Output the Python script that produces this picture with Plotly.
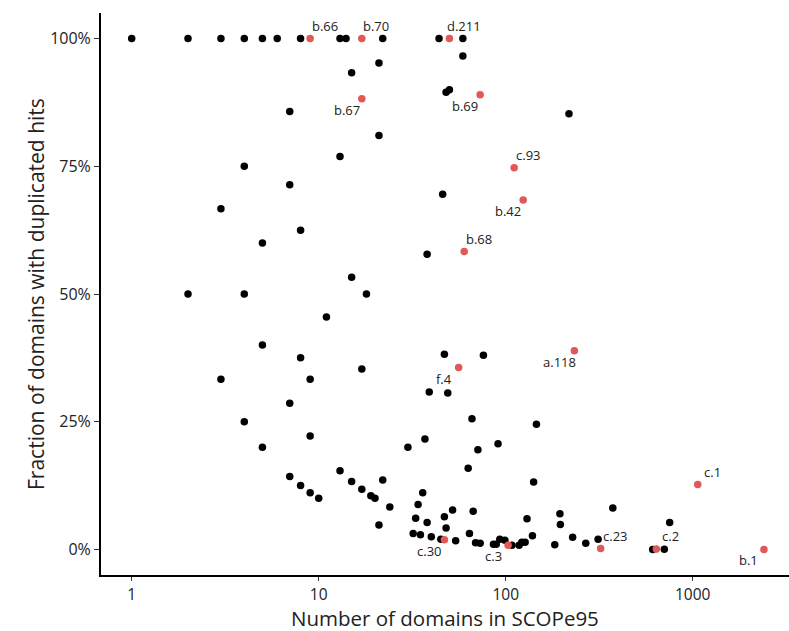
import math
import plotly.graph_objects as go

# Black points: number of domains in SCOPe95, fraction with duplicated hits
black_n = [1, 2, 3, 4, 5, 6, 8, 13, 14, 22, 44, 59,
           15, 7, 13, 4, 7, 21, 59, 48, 50, 218, 21, 46,
           3, 8, 5, 15, 2, 4, 11, 18, 5, 8, 17, 3, 9,
           38, 47, 76,
           7, 4, 9, 5, 7, 8, 9, 10, 13, 15, 17, 19, 20, 22, 24, 21,
           39, 49, 66, 146, 30, 37, 71, 91, 63, 141, 36, 34, 33, 38, 32, 35, 40, 45,
           47, 52, 48, 54, 64, 67, 69, 73, 86, 89, 93, 99, 108, 118, 122, 127, 130,
           139, 183, 195, 196, 228, 268, 312, 374, 611, 705, 753]
black_frac = [1.0, 1.0, 1.0, 1.0, 1.0, 1.0, 1.0, 1.0, 1.0, 1.0, 1.0, 1.0,
              0.933, 0.857, 0.769, 0.75, 0.714, 0.952, 0.966, 0.895, 0.90, 0.853, 0.81, 0.695,
              0.667, 0.625, 0.60, 0.533, 0.50, 0.50, 0.455, 0.50, 0.40, 0.375, 0.353, 0.333, 0.333,
              0.578, 0.382, 0.380,
              0.286, 0.25, 0.222, 0.20, 0.143, 0.125, 0.111, 0.10, 0.154, 0.133, 0.118, 0.105, 0.10, 0.136, 0.083, 0.048,
              0.308, 0.306, 0.256, 0.245, 0.20, 0.216, 0.195, 0.207, 0.159, 0.132, 0.111, 0.088, 0.061, 0.053, 0.031, 0.029, 0.025, 0.02,
              0.064, 0.077, 0.042, 0.017, 0.031, 0.075, 0.013, 0.012, 0.010, 0.010, 0.02, 0.018, 0.008, 0.008, 0.014, 0.014, 0.06,
              0.027, 0.009, 0.07, 0.049, 0.024, 0.012, 0.02, 0.081, 0.0, 0.0006, 0.053]

# Highlighted (red) classes
red_labels = ["b.66", "b.70", "d.211", "b.67", "b.69", "c.93", "b.42", "b.68",
              "f.4", "a.118", "c.30", "c.3", "c.23", "c.2", "c.1", "b.1"]
red_n = [9, 17, 50, 17, 73, 111, 124, 60, 56, 233, 47, 103, 322, 639, 1064, 2405]
red_frac = [1.0, 1.0, 1.0, 0.882, 0.89, 0.747, 0.684, 0.583, 0.356, 0.389,
            0.019, 0.008, 0.002, 0.001, 0.127, 0.0]

# Label placement style: "ur" = up-right, "dl" = down-left
label_dir = {"b.66": "ur", "b.70": "ur", "d.211": "ur", "b.67": "dl", "b.69": "dl",
             "c.93": "ur", "b.42": "dl", "b.68": "ur", "f.4": "dl", "a.118": "dl",
             "c.30": "dl", "c.3": "dl", "c.23": "ur", "c.2": "ur", "c.1": "ur", "b.1": "dl"}

x_tickvals = [1, 10, 100, 1000]
x_ticktext = ["1", "10", "100", "1000"]
y_tickvals = [0, 0.25, 0.5, 0.75, 1.0]
y_ticktext = ["0%", "25%", "50%", "75%", "100%"]

x_title = "Number of domains in SCOPe95"
y_title = "Fraction of domains with duplicated hits"

FONT = "Open Sans"
RED = "#e05858"

fig = go.Figure()
fig.add_trace(go.Scatter(x=black_n, y=black_frac, mode="markers",
                         marker=dict(color="black", size=7.5, line=dict(width=0)),
                         showlegend=False))
fig.add_trace(go.Scatter(x=red_n, y=red_frac, mode="markers",
                         marker=dict(color=RED, size=7.5, line=dict(width=0)),
                         showlegend=False))

for lab, n, f in zip(red_labels, red_n, red_frac):
    if label_dir[lab] == "ur":
        xs, ys = 14.5, 12.5
    else:
        xs, ys = -15, -11
    fig.add_annotation(x=math.log10(n), y=f, xref="x", yref="y", text=lab, showarrow=False,
                       xshift=xs, yshift=ys, xanchor="center", yanchor="middle",
                       font=dict(family=FONT, size=13, color="#222"))

# Axis titles as annotations for precise placement
fig.add_annotation(x=0.5, y=0, xref="paper", yref="paper", text=x_title, showarrow=False,
                   yshift=-43, xanchor="center", yanchor="middle",
                   font=dict(family=FONT, size=20.5, color="#222"))
fig.add_annotation(x=0, y=0.5, xref="paper", yref="paper", text=y_title, showarrow=False,
                   xshift=-65, textangle=-90, xanchor="center", yanchor="middle",
                   font=dict(family=FONT, size=21, color="#222"))

fig.update_layout(
    width=789, height=631,
    margin=dict(l=101, r=0, t=13, b=56),
    paper_bgcolor="white", plot_bgcolor="white",
    font=dict(family=FONT, color="#222"),
)
fig.update_xaxes(type="log", range=[-0.1642, 3.515],
                 tickvals=x_tickvals, ticktext=x_ticktext,
                 showgrid=False, zeroline=False,
                 showline=True, linecolor="black", linewidth=2,
                 ticks="outside", ticklen=4, tickwidth=1, tickcolor="#333",
                 tickfont=dict(family=FONT, size=15.5, color="#222"))
fig.update_yaxes(range=[-0.05, 1.05],
                 tickvals=y_tickvals, ticktext=y_ticktext,
                 showgrid=False, zeroline=False,
                 showline=True, linecolor="black", linewidth=2,
                 ticks="outside", ticklen=5, tickwidth=1, tickcolor="#333",
                 tickfont=dict(family=FONT, size=16, color="#222"))

fig.write_html("out.html")
